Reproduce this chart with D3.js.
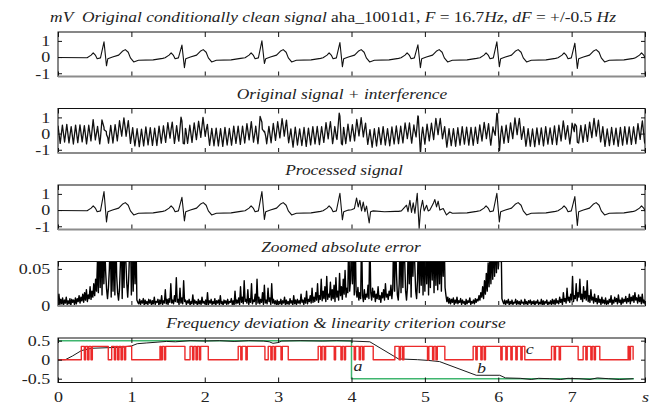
<!DOCTYPE html>
<html>
<head>
<meta charset="utf-8">
<script src="https://cdn.jsdelivr.net/npm/d3@7"></script>
<style>
  body { margin: 0; background: #fff; }
  svg text { font-family: "Liberation Serif", "Times New Roman", serif; fill: #222; white-space: pre; }
</style>
</head>
<body>
<svg id="chart" width="665" height="409"></svg>
<script>
// ---------------- data ----------------
const timeTicks = [0, 1, 2, 3, 4, 5, 6, 7, 8];
const timeLabels = ["0", "1", "2", "3", "4", "5", "6", "7", "s"];
const signalTicks = [-1, 0, 1];
const errorTicks = [0, 0.05];
const freqTicks = [-0.5, 0, 0.5];

// R-peak times (s) and per-beat R / S amplitudes (mV)
const beatR = [0.627, 1.689, 2.779, 3.842, 4.905, 5.981, 7.044, 8.1];
const beatRAmp = [0.94, 0.74, 1.0, 0.9, 0.76, 0.94, 0.86, 0.9];
const beatSAmp = [-0.54, -0.66, -0.4, -0.6, -0.66, -0.6, -0.7, -0.6];
// processed signal amplitudes
const procRAmp = [1.14, 0.79, 1.14, 1.04, 1.0, 1.04, 0.83, 0.9];
const procSAmp = [-0.73, -0.67, -0.58, -0.6, -0.66, -0.73, -0.95, -0.6];

// one heart beat: offset from R (s) and value (mV); null = R / S taken from arrays above
const beatOffset = [-0.23, -0.175, -0.147, -0.115, -0.093, -0.048, 0, 0.034, 0.052, 0.116, 0.2, 0.25, 0.29, 0.33, 0.36, 0.405, 0.47, 0.67, 0.8];
const beatShape  = [-0.04, 0.12, 0.26, 0.1, -0.1, -0.05, null, null, -0.1, 0.0, 0.12, 0.36, 0.46, 0.3, -0.05, -0.3, -0.2, -0.17, -0.08];
const startLevel = -0.03;

// processed signal: windows where the filter output differs, and the trace there
const procWindows = [[3.98, 4.6], [4.66, 5.36]];
const procPatchT = [4.0, 4.04, 4.069, 4.092, 4.114, 4.137, 4.16, 4.183, 4.205, 4.241, 4.26, 4.296, 4.45, 4.6,
  4.68, 4.75, 4.77, 4.796, 4.818, 4.841, 4.864, 4.896, 4.922, 4.941, 4.968, 4.991, 5.023, 5.045, 5.068,
  5.114, 5.136, 5.159, 5.181, 5.204, 5.25, 5.272, 5.295, 5.34];
const procPatchV = [0.02, 0.1, 0.75, 0.2, 0.6, -0.05, 0.5, -0.1, 0.25, -0.8, -0.1, -0.05, -0.1, -0.08,
  -0.05, 0.3, -0.1, 0.6, -0.15, 0.45, -0.2, 1.04, -1.15, 0.0, 0.6, -0.05, 0.3, -0.05, 0.0,
  0.4, 0.65, 0.2, 0.55, 0.0, 0.1, -0.1, -0.3, -0.12];

// interference, F = 16.7 Hz, samples every half period (hundredths of mV)
const humF = 16.7;
const humSamples = [
  52,-58,55,-49,60,-54,47,-61,56,-52,58,-47,53,-60,49,-56,61,-50,54,-57,
  48,-62,57,-51,55,-59,50,-54,62,-48,56,-58,51,-55,59,-49,53,-61,47,-57,
  60,-52,54,-56,49,-60,58,-50,55,-53,61,-47,52,-59,57,-51,48,-62,56,-54,
  53,-57,59,-49,51,-61,55,-52,47,-58,62,-50,54,-56,50,-60,57,-53,49,-55,
  61,-48,56,-59,52,-54,58,-51,49,-62,55,-57,60,-50,53,-55,48,-58,57,-52,
  54,-60,50,-56,59,-49,53,-57,62,-51,48,-55,56,-61,51,-53,58,-50,55,-59,
  49,-54,60,-52,57,-58,51,-48,55,-62,53,-56,59,-50,47,-57,61,-53,52,-55,
  58,-51,54,-60,50,-57,56,-49,61,-53,48,-59,55,-52,57,-54,50,-61,53,-56,
  56,-50,59,-55,52,-58,48,-62,57,-51,54,-56,60,-49,53,-57,51,-60,58,-52,
  50,-59,55,-53,61,-48,57,-56,52,-61,49,-54,58,-50,56,-55,53,-62,47,-58,
  59,-52,54,-57,50,-60,56,-51,62,-49,55,-58,51,-53,57,-56,48,-61,54,-50,
  53,-58,60,-50,49,-55,57,-62,52,-54,58,-51,55,-57,50,-59,61,-48,56,-53,
  51,-56,58,-52,55,-61,49,-57,60,-50,53,-55,57,-49,52,-60,56,-54,59,-51,
  54,-57,50,-59,56,-52,58,-55
];

// zoomed absolute error, every 0.0125 s (units of 0.001 mV), one row = 0.25 s
const errStep = 0.0125;
const absErr = [
  4,16,2,9,3,11,1,8,4,12,2,7,3,10,1,9,5,8,2,11,
  3,10,6,14,4,12,7,16,5,18,8,22,6,15,10,26,9,20,12,30,
  14,36,20,60,18,99,25,99,15,99,30,80,45,22,10,25,50,99,12,99,
  20,99,15,99,40,18,8,22,55,99,10,99,25,99,60,30,12,35,70,99,
  15,99,20,99,30,99,8,5,3,9,2,7,4,10,1,8,3,6,2,9,
  4,8,1,7,3,12,2,6,5,9,1,8,3,14,2,7,4,22,3,9,
  2,10,5,30,4,8,3,14,6,38,5,9,2,24,4,11,3,34,6,8,
  2,7,4,9,1,6,3,15,2,8,4,6,1,9,3,7,2,12,4,6,
  3,8,1,18,2,7,4,9,2,6,3,10,1,7,4,8,2,14,3,6,
  1,8,4,7,2,9,3,6,5,10,2,7,1,20,3,8,4,11,2,26,
  5,12,3,34,6,9,4,22,2,10,5,30,3,8,6,16,2,36,4,12,
  3,9,5,18,2,28,4,8,3,24,6,11,2,30,4,9,3,7,2,8,
  1,6,3,9,2,7,4,12,1,8,3,6,2,10,4,7,1,14,3,8,
  2,9,4,7,3,16,5,8,2,11,4,20,3,9,6,14,4,24,5,12,
  6,18,8,30,5,14,9,36,7,20,10,26,6,40,9,16,12,32,8,22,
  10,28,6,38,12,20,8,44,14,26,9,36,16,48,12,24,18,99,20,35,
  99,30,99,15,99,20,12,25,8,18,10,99,14,6,22,9,16,12,28,10,
  99,18,8,24,12,20,6,16,10,26,9,14,5,18,11,22,8,30,12,16,
  9,20,14,28,10,24,99,20,99,45,15,8,30,99,18,99,25,99,60,20,
  8,25,99,30,99,12,99,40,99,55,20,10,35,99,18,99,28,99,15,99,
  20,99,30,99,15,99,25,99,35,99,18,99,28,99,22,99,30,99,20,99,
  40,99,25,14,6,12,4,10,3,9,5,11,2,8,4,12,3,7,5,10,
  2,8,4,6,1,9,3,7,5,11,2,6,4,8,3,10,5,9,7,14,
  8,18,12,26,10,34,16,44,20,58,26,70,30,85,36,99,40,99,45,99,
  50,99,60,99,10,6,3,8,2,7,4,9,1,6,3,8,2,5,4,9,
  2,7,3,6,1,8,4,5,2,9,3,6,1,7,4,8,2,6,3,7,
  1,6,4,8,2,5,3,9,1,7,2,6,4,8,1,5,3,7,2,9,
  3,8,2,10,4,7,3,12,5,9,2,18,6,10,4,24,7,12,5,16,
  8,40,6,14,10,30,7,18,12,36,9,16,6,26,10,20,8,34,6,14,
  5,22,8,12,4,16,6,10,3,14,5,9,2,12,4,8,3,11,2,7,
  3,9,5,14,2,8,4,12,6,10,3,15,5,8,2,11,4,9,6,13,
  4,10,6,16,3,12,7,14,5,18,8,11,4,15,6,12,3,16,4,8,
  3
];

// frequency deviation (Hz): true (green) and estimated (black)
const trueDevT = [0, 4, 4, 7.85];
const trueDevV = [0.5, 0.5, -0.5, -0.5];
const estDevT = [0, 0.1, 0.2, 0.32, 0.46, 0.89, 0.95, 1.0, 1.08, 1.21, 1.35, 1.48, 1.6, 1.8, 2.0, 2.2, 2.4, 2.6, 2.8, 2.88, 2.93, 3.0, 3.05, 3.3, 3.6, 3.8, 4.0, 4.25,
  4.64, 4.9, 5.05, 5.2, 5.7, 6.02, 6.1, 6.3, 6.45, 6.55, 6.7, 6.85, 6.95, 7.1, 7.25, 7.35, 7.5, 7.65, 7.84];
const estDevV = [0, 0, 0.1, 0.24, 0.3, 0.33, 0.35, 0.36, 0.42, 0.44, 0.46, 0.48, 0.47, 0.5, 0.49, 0.5, 0.48, 0.5, 0.49, 0.47, 0.43, 0.45, 0.49, 0.5, 0.49, 0.5, 0.49, 0.47,
  0.02, 0.0, -0.02, -0.05, -0.41, -0.41, -0.48, -0.49, -0.52, -0.49, -0.5, -0.52, -0.49, -0.5, -0.52, -0.48, -0.5, -0.52, -0.5];

// linearity criterion (red): high intervals and short drops inside them
const critLevel = 0.35;
const critHigh = [[0.318, 0.685], [0.732, 1.004], [1.39, 1.73], [1.80, 2.048], [2.456, 2.82], [2.865, 3.138],
  [3.546, 4.296], [4.591, 5.272], [5.658, 6.362], [6.726, 7.089], [7.157, 7.384], [7.77, 7.838]];
const critDips = [0.368, 0.413, 0.459, 0.777, 0.822, 0.868, 0.913, 1.413, 1.458, 1.843, 1.89, 1.935, 2.5, 2.57,
  2.91, 2.956, 3.048, 3.59, 3.638, 3.774, 3.865, 3.91, 4.046, 4.114, 4.16, 4.659, 4.705, 5.045, 5.114, 5.16,
  5.704, 5.772, 5.817, 6.044, 6.113, 6.181, 6.249, 6.317, 6.771, 6.839, 7.203, 7.271, 7.316, 7.793];

const noteLabels = ["a", "b", "c"];
const noteT = [4.09, 5.77, 6.43];
const noteV = [-0.31, -0.36, 0.16];

// ---------------- build traces ----------------
function beatTrace(rAmp, sAmp) {
  const pts = [[0, startLevel]];
  beatR.forEach((r, i) => {
    beatOffset.forEach((dt, k) => {
      let v = beatShape[k];
      if (k === 6) v = rAmp[i];
      if (k === 7) v = sAmp[i];
      pts.push([r + dt, v]);
    });
  });
  return pts.filter(p => p[0] >= 0 && p[0] <= 8.05);
}

function valueAt(pts, t) {
  const i = d3.bisector(d => d[0]).left(pts, t);
  if (i <= 0) return pts[0][1];
  if (i >= pts.length) return pts[pts.length - 1][1];
  const a = pts[i - 1], b = pts[i];
  if (b[0] === a[0]) return b[1];
  return d3.interpolateNumber(a[1], b[1])((t - a[0]) / (b[0] - a[0]));
}

const cleanPts = beatTrace(beatRAmp, beatSAmp);

const humPts = humSamples.map((v, i) => [i / (2 * humF), v / 100]);
const noisyTimes = cleanPts.map(p => p[0]).concat(humPts.map(p => p[0])).sort((a, b) => a - b);
const noisyPts = noisyTimes.map(t => [t, valueAt(cleanPts, t) + valueAt(humPts, t)]);

const procPts = beatTrace(procRAmp, procSAmp)
  .filter(p => !procWindows.some(w => p[0] >= w[0] && p[0] <= w[1]))
  .concat(procPatchT.map((t, i) => [t, procPatchV[i]]))
  .sort((a, b) => a[0] - b[0]);

const errPts = absErr.map((v, i) => [i * errStep, v / 1000]);

const truePts = trueDevT.map((t, i) => [t, trueDevV[i]]);
const estPts = estDevT.map((t, i) => [t, estDevV[i]]);

const dipHalf = 0.009;
const critPts = [[0, 0]];
critHigh.forEach(([a, b]) => {
  critPts.push([a, 0], [a, critLevel]);
  critDips.filter(d => d > a && d < b).forEach(d => {
    critPts.push([d - dipHalf, critLevel], [d - dipHalf, 0], [d + dipHalf, 0], [d + dipHalf, critLevel]);
  });
  critPts.push([b, critLevel], [b, 0]);
});

// ---------------- layout ----------------
const svg = d3.select("#chart");
const x = d3.scaleLinear().domain([0, 8]).range([58, 645]);
const panelH = 44.5;
const panelTop = i => 32 + i * 76.5;
const stretch = "scale(1.2,1)";
const fmt = d => String(d);

const panels = [
  { domain: [-1.2, 1.55], ticks: signalTicks, cx: 333,
    title: [["mV", 1], ["  ", 0], ["Original conditionally clean signal", 1], [" aha_1001d1, ", 0], ["F", 1], [" = 16.7", 0], ["Hz", 1], [", ", 0], ["dF", 1], [" = +/-0.5 ", 0], ["Hz", 1]],
    lines: [{ pts: cleanPts, color: "#111", w: 1.1 }] },
  { domain: [-1.2, 1.55], ticks: signalTicks, cx: 342,
    title: [["Original signal + interference", 1]],
    lines: [{ pts: noisyPts, color: "#111", w: 1.3 }] },
  { domain: [-1.2, 1.55], ticks: signalTicks, cx: 344,
    title: [["Processed signal", 1]],
    lines: [{ pts: procPts, color: "#111", w: 1.1 }] },
  { domain: [0, 0.06], ticks: errorTicks, cx: 341,
    title: [["Zoomed absolute error", 1]],
    lines: [{ pts: errPts, color: "#000", w: 1.4 }] },
  { domain: [-0.6, 0.57], ticks: freqTicks, cx: 336,
    title: [["Frequency deviation & linearity criterion course", 1]],
    lines: [{ pts: truePts, color: "#3fb56e", w: 1.5 }, { pts: estPts, color: "#1a1a1a", w: 1 }, { pts: critPts, color: "#ec2a2a", w: 1.4 }] }
];

panels.forEach((p, i) => {
  const top = panelTop(i), bottom = top + panelH;
  const y = d3.scaleLinear().domain(p.domain).range([bottom, top]);
  const g = svg.append("g");

  // title
  const title = g.append("text")
    .attr("transform", `translate(${p.cx},${top - 10}) ${stretch}`)
    .attr("text-anchor", "middle")
    .attr("font-size", 14.5);
  p.title.forEach(([s, it]) => title.append("tspan").text(s).attr("font-style", it ? "italic" : "normal"));

  // traces
  const clipId = "clip" + i;
  svg.append("clipPath").attr("id", clipId)
    .append("rect").attr("x", x(0)).attr("y", top).attr("width", x(8) - x(0)).attr("height", panelH);
  const line = d3.line().x(d => x(d[0])).y(d => y(d[1]));
  p.lines.forEach(l => {
    g.append("path")
      .datum(l.pts)
      .attr("clip-path", `url(#${clipId})`)
      .attr("fill", "none")
      .attr("stroke", l.color)
      .attr("stroke-width", l.w)
      .attr("stroke-linejoin", "round")
      .attr("d", line);
  });

  // axes, ticks pointing inwards
  const last = i === panels.length - 1;
  const xb = g.append("g").attr("transform", `translate(0,${bottom})`)
    .call(d3.axisBottom(x).tickValues(timeTicks).tickSize(-5).tickPadding(9)
      .tickFormat(last ? (d, k) => timeLabels[k] : ""));
  const xt = g.append("g").attr("transform", `translate(0,${top})`)
    .call(d3.axisTop(x).tickValues(timeTicks).tickSize(-5).tickFormat(""));
  const yl = g.append("g").attr("transform", `translate(${x(0)},0)`)
    .call(d3.axisLeft(y).tickValues(p.ticks).tickSize(-4).tickPadding(6.5).tickFormat(fmt));
  const yr = g.append("g").attr("transform", `translate(${x(8)},0)`)
    .call(d3.axisRight(y).tickValues(p.ticks).tickSize(-4).tickFormat(""));

  [xb, xt, yl, yr].forEach(a => {
    a.attr("font-family", null);
    a.select(".domain").remove();
    a.selectAll("line").attr("stroke", "#111");
    a.selectAll("text").attr("font-size", 15).attr("fill", "#222").attr("transform", stretch);
  });
  xb.selectAll("text").filter(d => d === 8).attr("font-style", "italic");

  // frame
  g.append("rect")
    .attr("x", x(0)).attr("y", top).attr("width", x(8) - x(0)).attr("height", panelH)
    .attr("fill", "none").attr("stroke", "#111").attr("stroke-width", 1);
  if (!last) {
    g.append("line")
      .attr("x1", x(0)).attr("x2", x(8)).attr("y1", bottom).attr("y2", bottom)
      .attr("stroke", "#8c8c8c").attr("stroke-width", 2);
  }

  // notes on the last panel
  if (last) {
    g.selectAll(".note").data(noteLabels).enter().append("text")
      .attr("class", "note")
      .attr("transform", (d, k) => `translate(${x(noteT[k])},${y(noteV[k])}) ${stretch}`)
      .attr("text-anchor", "middle")
      .attr("font-size", 15)
      .attr("font-style", "italic")
      .text(d => d);
  }
});
</script>
</body>
</html>
